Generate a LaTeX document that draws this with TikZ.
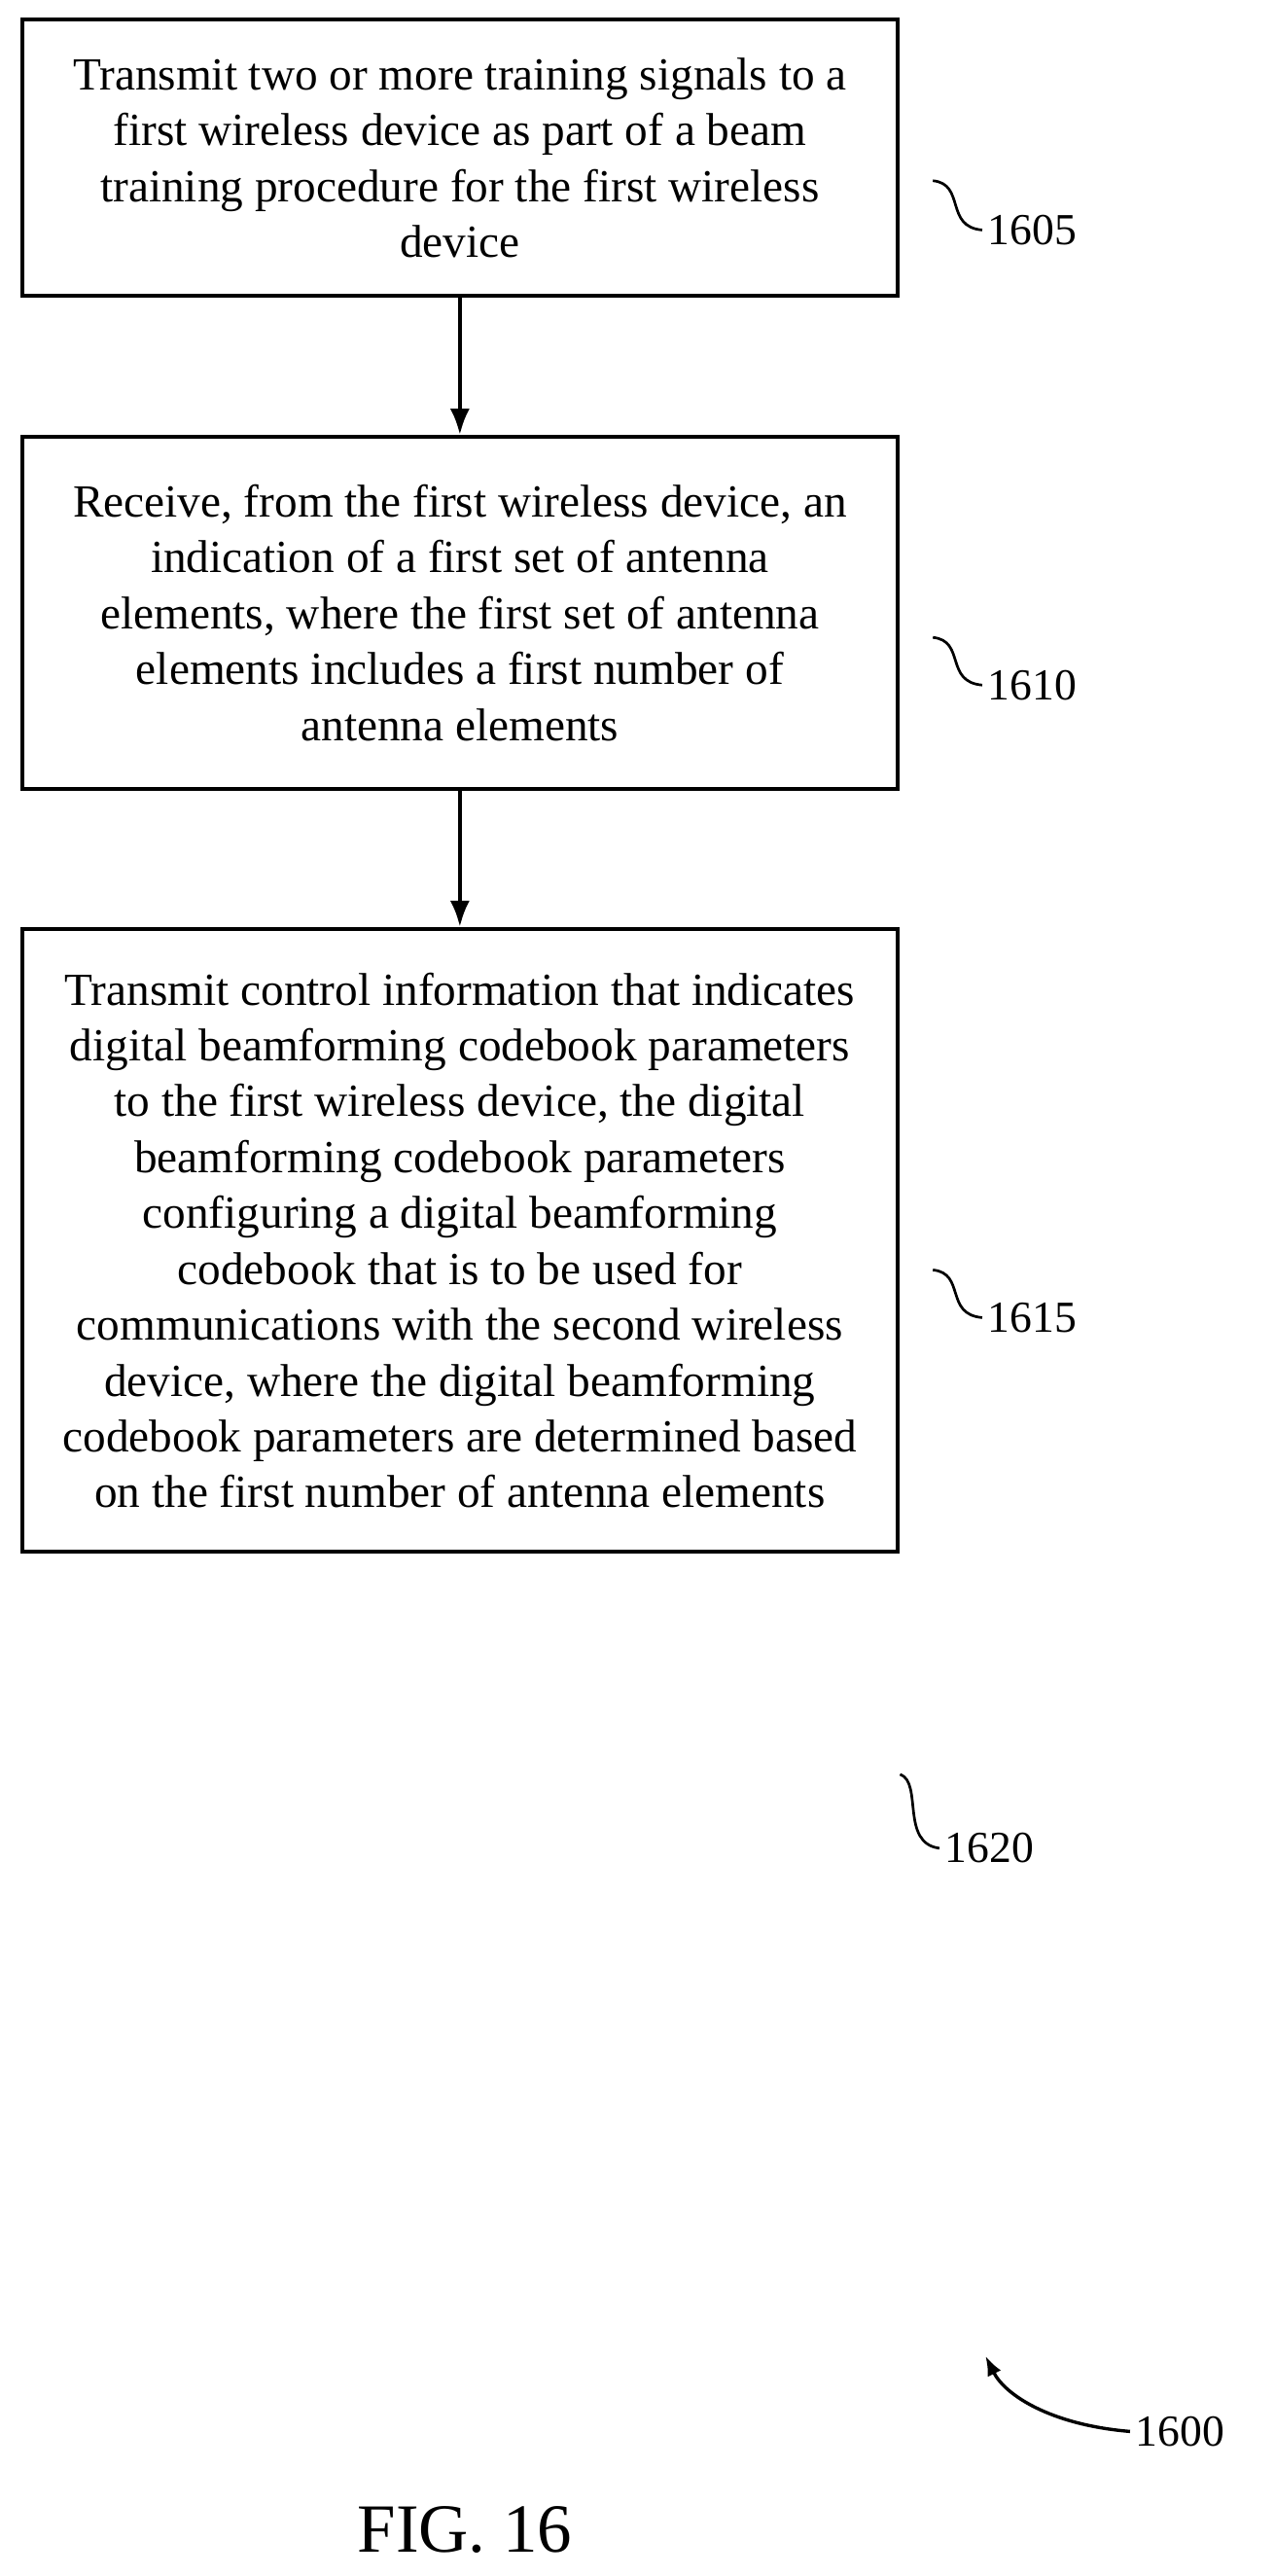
\documentclass[tikz,border=0pt]{standalone}
\usepackage{fontspec}
\setmainfont{Liberation Serif}
\usetikzlibrary{arrows,arrows.meta,positioning,calc}

\begin{document}
\begin{tikzpicture}[x=1pt, y=-1pt,
            stepbox/.style={draw, line width=2.4pt, minimum width=533pt,
                            align=center, font=\fontsize{28}{34}\selectfont},
            reflabel/.style={font=\fontsize{27}{30}\selectfont, anchor=west},
            flow/.style={draw, line width=2.6pt, -{Latex[length=16pt,width=12pt]}},
            lead/.style={draw, line width=1.6pt}]
        \useasboundingbox (0,0) rectangle (776,1568);

        \node[stepbox, minimum height=168pt] (step1) at (280,96)
            {Transmit two or more training signals to a\\ first wireless device as part of a beam\\ training procedure for the first wireless\\ device};
        \node[stepbox, minimum height=214pt] (step2) at (280,373)
            {Receive, from the first wireless device, an\\ indication of a first set of antenna\\ elements, where the first set of antenna\\ elements includes a first number of\\ antenna elements};
        \node[stepbox, minimum height=379pt] (step3) at (280,755)
            {Transmit control information that indicates\\ digital beamforming codebook parameters\\ to the first wireless device, the digital\\ beamforming codebook parameters\\ configuring a digital beamforming\\ codebook that is to be used for\\ communications with the second wireless\\ device, where the digital beamforming\\ codebook parameters are determined based\\ on the first number of antenna elements};

        \draw[flow] (step1) -- (step2);
        \draw[flow] (step2) -- (step3);

        % reference numerals
        \node[reflabel] (lab1605) at (598,140) {1605};
        \node[reflabel] (lab1610) at (598,417) {1610};
        \node[reflabel] (lab1615) at (598,802) {1615};
        \node[reflabel] (lab1620) at (572,1125) {1620};
        \node[reflabel] (lab1600) at (688,1480) {1600};
        \node[font=\fontsize{42}{48}\selectfont] (figlabel) at (283,1540) {FIG. 16};

        \draw[lead] (lab1605.west) .. controls (575,138) and (588,112) .. (568,110);
        \draw[lead] (lab1610.west) .. controls (575,415) and (588,390) .. (568,388);
        \draw[lead] (lab1615.west) .. controls (575,800) and (588,775) .. (568,773);
        \draw[lead] (lab1620.west) .. controls (548,1122) and (562,1085) .. (548,1080);
        \draw[lead, line width=2pt, -{Latex[length=12pt,width=9pt]}] (lab1600.west) .. controls (640,1476) and (612,1458) .. (600,1434);
\end{tikzpicture}
\end{document}
